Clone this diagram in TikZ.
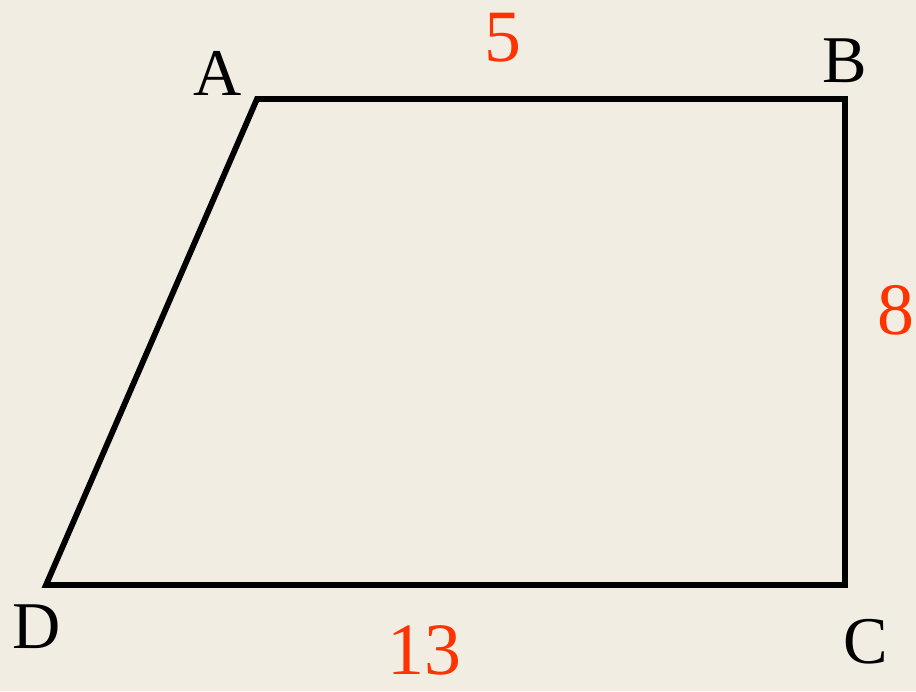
\documentclass[tikz,border=0pt]{standalone}
\usepackage{fontspec}
\setmainfont{Liberation Serif}
\usepackage{xcolor}
\definecolor{paperbg}{RGB}{241,237,226}
\definecolor{sidered}{RGB}{255,51,0}
\usetikzlibrary{positioning}
\tikzset{
  side/.style={black,line width=3.3pt,line join=miter},
  vlab/.style={inner sep=0pt,font=\fontsize{38}{40}\selectfont},
  slab/.style={inner sep=0pt,text=sidered,font=\fontsize{42}{44}\selectfont},
}
\begin{document}
\begin{tikzpicture}[x=0.02cm,y=-0.02cm]
  % paper
  \fill[paperbg] (0,0) rectangle (916,691);
  \useasboundingbox (0,0) rectangle (916,691);
  % corners of the trapezoid
  \coordinate (A) at (257,99);
  \coordinate (B) at (845,99);
  \coordinate (C) at (845,585);
  \coordinate (D) at (46,585);
  \draw[side] (A)--(B)--(C)--(D)--cycle;
  % corner names
  \node[vlab] (lA) at (218,73){A};
  \node[vlab] (lB) at (845,61){B};
  \node[vlab] (lC) at (866,642){C};
  \node[vlab] (lD) at (37,627){D};
  % side lengths
  \node[slab] (s5) at (503,38){5};
  \node[slab] (s8) at (896,310){8};
  \node[slab] (s13) at (424,650){13};
\end{tikzpicture}
\end{document}
